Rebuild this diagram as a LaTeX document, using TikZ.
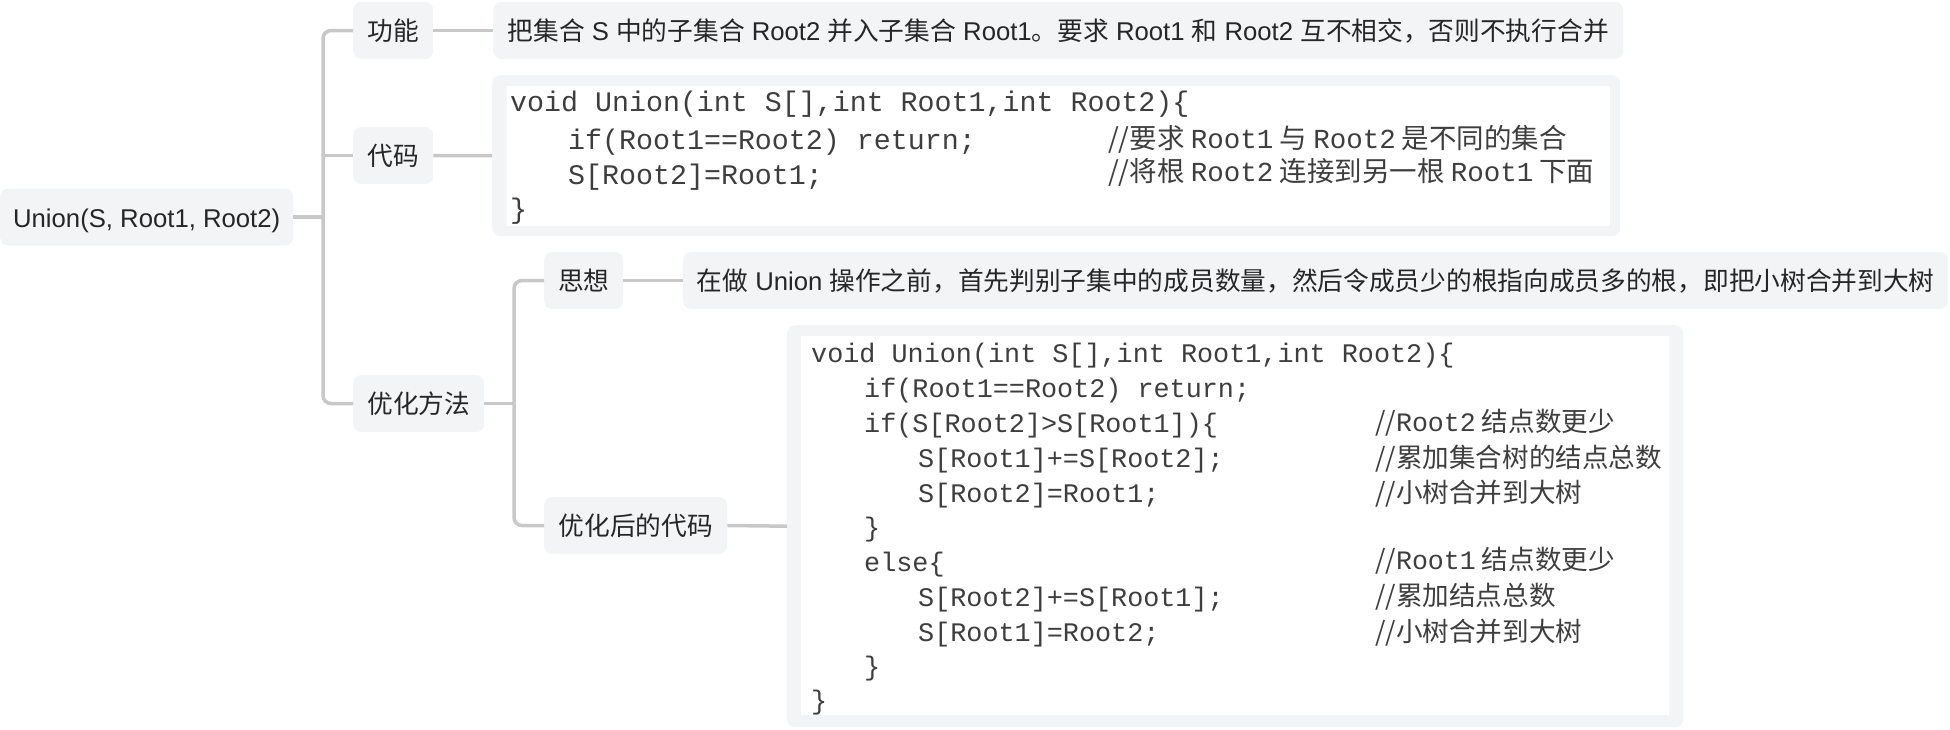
\documentclass[tikz,border=0pt]{standalone}
\usepackage{fontspec}
\setmainfont{Liberation Sans}
\newfontfamily\cjk{Noto Sans CJK SC}
\newfontfamily\mono{Liberation Mono}
\definecolor{nodebg}{RGB}{243,244,246}
\definecolor{linecol}{RGB}{200,200,200}
\definecolor{txt}{RGB}{38,38,38}
\definecolor{codetxt}{RGB}{62,62,62}
\begin{document}
\begin{tikzpicture}[x=1pt,y=-1pt,
  box/.style={fill=nodebg, rounded corners=8pt, inner sep=0pt, text=txt,
    font=\fontsize{25.7}{30}\selectfont, text height=20pt, text depth=0pt,
    minimum height=57pt, anchor=west},
  codebox/.style={fill=nodebg, rounded corners=8pt, inner sep=0pt, anchor=north west},
  conn/.style={draw=linecol, line width=3.5pt, rounded corners=8pt},
  codeA/.style={anchor=base west, inner sep=0pt, text=codetxt, font=\mono\fontsize{28.3}{32}\selectfont},
  cmtA/.style={anchor=base west, inner sep=0pt, text=codetxt, font=\cjk\fontsize{27.5}{32}\selectfont},
  codeB/.style={anchor=base west, inner sep=0pt, text=codetxt, font=\mono\fontsize{26.8}{30}\selectfont},
  cmtB/.style={anchor=base west, inner sep=0pt, text=codetxt, font=\cjk\fontsize{26.6}{30}\selectfont},
]
\useasboundingbox (0,0) rectangle (1950,729);

% main nodes
\node[box, minimum width=293pt] (root) at (0,217) {Union(S, Root1, Root2)};
\node[box, minimum width=80pt] (gn) at (353,30.5) {\cjk 功能};
\node[box, minimum width=80pt] (dm) at (353,155.5) {\cjk 代码};
\node[box, minimum width=131pt] (yh) at (353,403.5) {\cjk 优化方法};
\node[box, minimum width=79pt] (sx) at (544,280.5) {\cjk 思想};
\node[box, minimum width=183pt] (yhdm) at (544,525.5) {\cjk 优化后的代码};

\node[box, minimum width=1130pt] (desc1) at (493,30.5)
  {{\cjk 把集合} S {\cjk 中的子集合} Root2 {\cjk 并入子集合} Root1{\cjk 。要求} Root1 {\cjk 和} Root2 {\cjk 互不相交，否则不执行合并}};
\node[box, minimum width=1265pt] (desc2) at (683,280.5)
  {{\cjk 在做} Union {\cjk 操作之前，首先判别子集中的成员数量，然后令成员少的根指向成员多的根，即把小树合并到大树}};

% code boxes
\node[codebox, minimum width=1128pt, minimum height=161pt] (code1) at (492,75) {};
\fill[white] (507,86) rectangle (1610,226);
\node[codebox, minimum width=896pt, minimum height=402pt] (code2) at (787,325) {};
\fill[white] (801,336) rectangle (1669,715);

% code 1
\node[codeA] (a1) at (510,111) {void Union(int S[],int Root1,int Root2)\{};
\node[codeA] (a2) at (568,149) {if(Root1==Root2) return;};
\node[codeA] (a3) at (568,184) {S[Root2]=Root1;};
\node[codeA] (a4) at (510,218) {\}};
\node[cmtA] (ac1) at (1108,148) {//要求 {\mono Root1} 与 {\mono Root2} 是不同的集合};
\node[cmtA] (ac2) at (1108,181) {//将根 {\mono Root2} 连接到另一根 {\mono Root1} 下面};

% code 2
\node[codeB] (b1) at (811,362) {void Union(int S[],int Root1,int Root2)\{};
\node[codeB] (b2) at (864,397) {if(Root1==Root2) return;};
\node[codeB] (b3) at (864,432) {if(S[Root2]>S[Root1])\{};
\node[codeB] (b4) at (918,467) {S[Root1]+=S[Root2];};
\node[codeB] (b5) at (918,502) {S[Root2]=Root1;};
\node[codeB] (b6) at (864,536) {\}};
\node[codeB] (b7) at (864,571) {else\{};
\node[codeB] (b8) at (918,606) {S[Root2]+=S[Root1];};
\node[codeB] (b9) at (918,641) {S[Root1]=Root2;};
\node[codeB] (b10) at (864,675) {\}};
\node[codeB] (b11) at (811,709) {\}};
\node[cmtB] (bc1) at (1375,431) {//{\mono Root2} 结点数更少};
\node[cmtB] (bc2) at (1375,467) {//累加集合树的结点总数};
\node[cmtB] (bc3) at (1375,502) {//小树合并到大树};
\node[cmtB] (bc4) at (1375,569) {//{\mono Root1} 结点数更少};
\node[cmtB] (bc5) at (1375,605) {//累加结点总数};
\node[cmtB] (bc6) at (1375,641) {//小树合并到大树};

% connectors
\coordinate (t1) at (323,217);
\coordinate (t2) at (514,403.5);
\draw[conn] (root.east) -- (t1);
\draw[conn] (t1) |- (gn.west);
\draw[conn] (t1) |- (yh.west);
\draw[conn] (dm.west -| t1) -- (dm.west);
\draw[conn] (gn.east) -- (desc1.west);
\draw[conn] (dm.east) -- (code1.west);
\draw[conn] (yh.east) -- (t2);
\draw[conn] (t2) |- (sx.west);
\draw[conn] (t2) |- (yhdm.west);
\draw[conn] (sx.east) -- (desc2.west);
\draw[conn] (yhdm.east) -- (code2.west);
\end{tikzpicture}
\end{document}
